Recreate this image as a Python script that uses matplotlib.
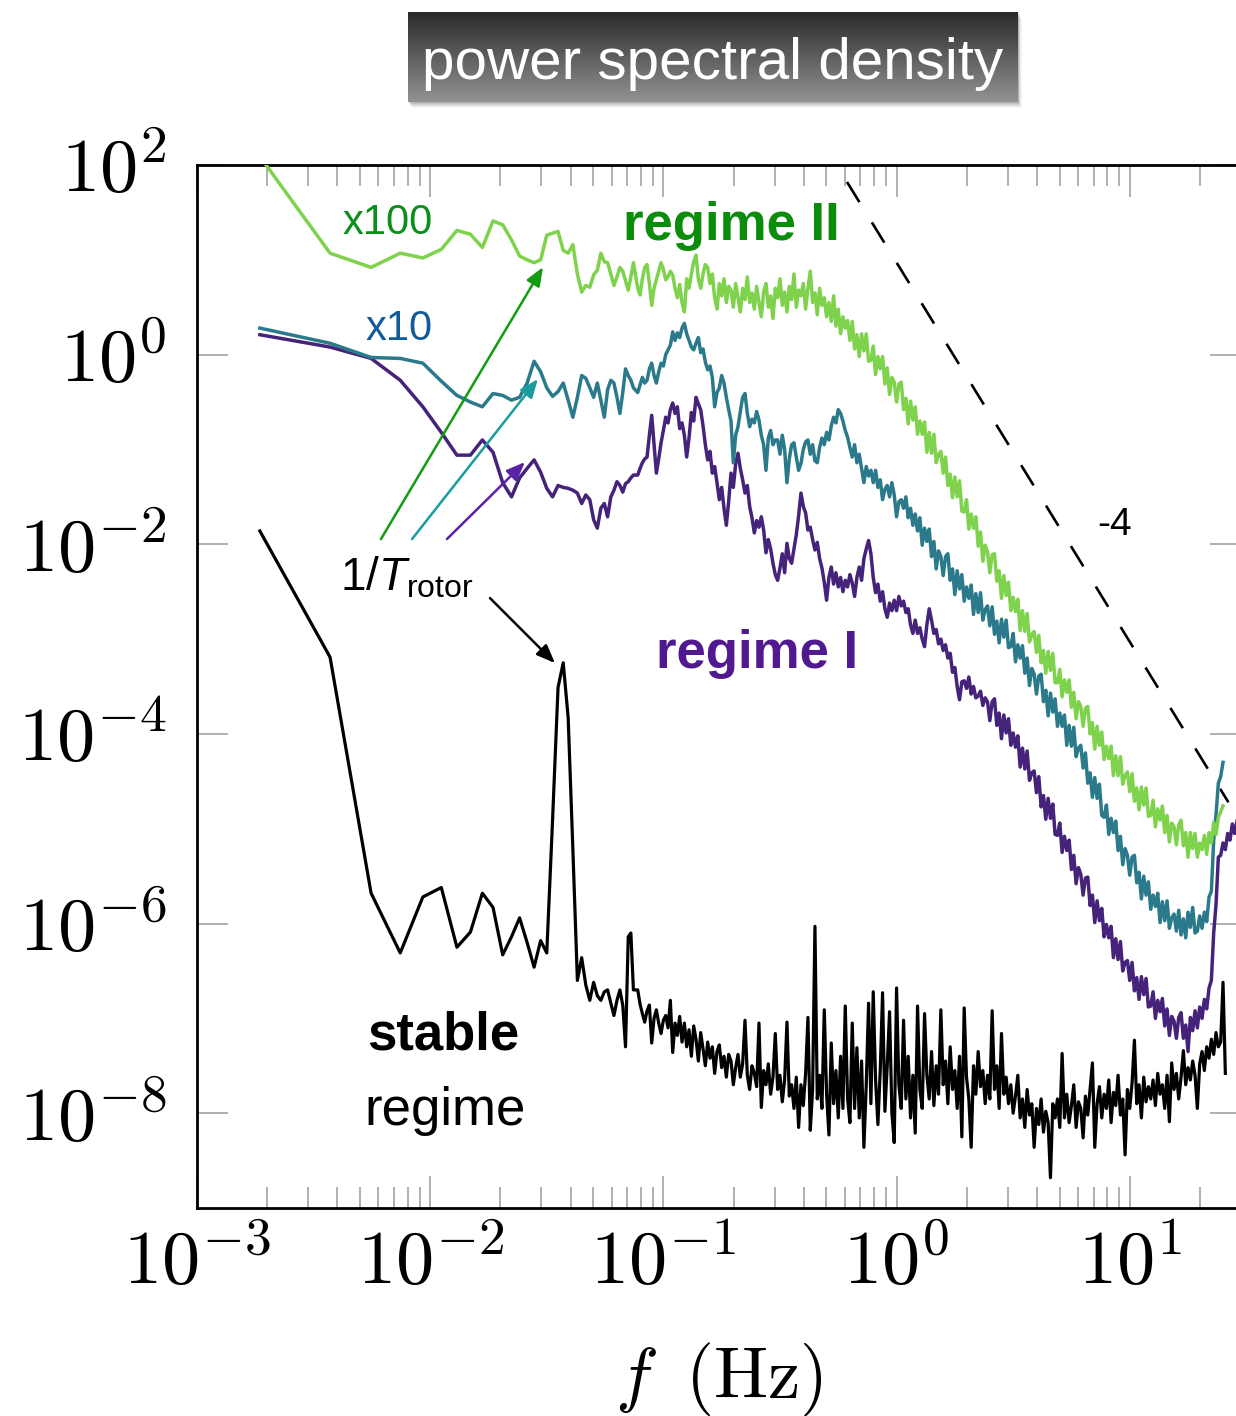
import numpy as np
import matplotlib
matplotlib.use('Agg')
import matplotlib.pyplot as plt
from matplotlib.patches import Rectangle
from matplotlib.colors import LinearSegmentedColormap
from matplotlib.ticker import LogLocator, NullLocator, NullFormatter

plt.rcParams['font.family'] = ['Liberation Sans', 'DejaVu Sans']
plt.rcParams['mathtext.fontset'] = 'cm'
plt.rcParams['mathtext.rm'] = 'Liberation Sans'
plt.rcParams['mathtext.it'] = 'Liberation Sans:italic'

# frequency bins: linear bins at low f, then log-spaced samples of the dense part
df = 0.00186
f_low = df * np.arange(1, 41)
f_high = np.logspace(-1.11, 1.48, 260)
freq = np.concatenate([f_low, f_high])

# log10 of the PSD, regime II (already multiplied by 100)
regime2_low = [2.09, 1.07, 0.92, 1.07, 1.02, 1.11, 1.31, 1.27, 1.13, 1.41,
               1.37, 1.21, 1.04, 1.00, 0.97, 1.00, 1.26, 1.28, 1.30, 1.10,
               1.07, 1.16, 0.85, 0.66, 0.73, 0.71, 0.84, 0.89, 1.07, 0.98,
               0.97, 0.85, 0.73, 0.82, 0.92, 0.88, 0.78, 0.68, 0.82, 0.97]
regime2_high = [
    0.70, 0.63, 0.80, 0.92, 0.95, 0.75, 0.52, 0.70, 0.79, 0.88,
    0.97, 0.90, 0.79, 0.82, 0.88, 0.84, 0.70, 0.60, 0.74, 0.55,
    0.45, 0.80, 0.70, 0.85, 0.98, 1.05, 0.80, 0.70, 0.85, 0.95,
    0.92, 0.75, 0.85, 0.60, 0.48, 0.75, 0.62, 0.80, 0.55, 0.72,
    0.68, 0.50, 0.75, 0.60, 0.45, 0.70, 0.58, 0.82, 0.55, 0.65,
    0.48, 0.72, 0.55, 0.40, 0.66, 0.75, 0.50, 0.62, 0.38, 0.70,
    0.60, 0.80, 0.52, 0.66, 0.45, 0.72, 0.58, 0.85, 0.50, 0.68,
    0.62, 0.75, 0.48, 0.70, 0.88, 0.55, 0.65, 0.42, 0.70, 0.52,
    0.60, 0.40, 0.55, 0.35, 0.62, 0.30, 0.48, 0.22, 0.40, 0.28,
    0.36, 0.15, 0.35, 0.06, 0.21, -0.02, 0.22, 0.04, 0.22, -0.07,
    -0.06, 0.09, -0.21, -0.02, -0.15, -0.02, -0.31, -0.14, -0.42, -0.24,
    -0.29, -0.50, -0.31, -0.29, -0.58, -0.46, -0.73, -0.49, -0.69, -0.55,
    -0.84, -0.70, -0.84, -0.71, -1.03, -0.82, -1.04, -0.84, -1.14, -1.05,
    -1.02, -1.25, -1.08, -1.38, -1.26, -1.51, -1.29, -1.50, -1.33, -1.65,
    -1.66, -1.53, -1.84, -1.68, -1.83, -1.71, -2.02, -1.87, -2.18, -2.01,
    -2.08, -2.30, -2.11, -2.10, -2.39, -2.28, -2.57, -2.33, -2.54, -2.40,
    -2.70, -2.56, -2.71, -2.58, -2.91, -2.70, -2.92, -2.73, -3.03, -2.95,
    -2.92, -3.14, -2.96, -3.25, -3.12, -3.36, -3.13, -3.33, -3.15, -3.46,
    -3.46, -3.32, -3.61, -3.43, -3.56, -3.43, -3.72, -3.56, -3.84, -3.66,
    -3.71, -3.92, -3.73, -3.71, -4.00, -3.88, -4.16, -3.92, -4.12, -3.98,
    -4.27, -4.13, -4.26, -4.13, -4.44, -4.23, -4.44, -4.24, -4.53, -4.44,
    -4.40, -4.61, -4.42, -4.71, -4.57, -4.80, -4.56, -4.75, -4.57, -4.87,
    -4.86, -4.70, -4.98, -4.79, -4.91, -4.76, -5.04, -4.86, -5.14, -4.94,
    -4.98, -5.17, -4.96, -4.91, -5.18, -5.04, -5.30, -5.04, -5.21, -5.05,
    -5.30, -5.15, -5.22, -5.07, -5.27, -5.04, -5.15, -4.93, -5.06, -4.88,
    -4.82, -4.76, np.nan, np.nan, np.nan, np.nan, np.nan, np.nan, np.nan, np.nan]

# log10 of the PSD, regime I (multiplied by 10)
regime1x10_low = [0.28, 0.12, -0.03, -0.04, -0.09, -0.28, -0.43, -0.50, -0.55, -0.41,
                  -0.43, -0.48, -0.45, -0.30, -0.07, -0.18, -0.35, -0.44, -0.39, -0.30,
                  -0.48, -0.66, -0.45, -0.22, -0.25, -0.35, -0.45, -0.30, -0.48, -0.66,
                  -0.37, -0.27, -0.30, -0.45, -0.62, -0.40, -0.15, -0.22, -0.27, -0.35]
regime1x10_high = [
    -0.40, -0.32, -0.24, -0.30, -0.27, -0.15, -0.09, -0.22, -0.30, -0.18,
    -0.09, -0.12, 0.00, 0.05, 0.10, 0.24, 0.15, 0.23, 0.18, 0.28,
    0.33, 0.22, 0.15, 0.08, 0.05, 0.12, 0.18, 0.02, 0.06, -0.08,
    -0.16, -0.12, -0.24, -0.55, -0.40, -0.35, -0.22, -0.30, -0.45, -0.58,
    -0.70, -1.14, -0.85, -0.76, -0.60, -0.45, -0.41, -0.62, -0.76, -0.68,
    -0.72, -0.60, -0.69, -0.85, -0.95, -1.22, -0.88, -0.80, -0.95, -0.90,
    -0.90, -1.05, -0.85, -1.00, -1.35, -1.10, -0.95, -0.93, -1.08, -1.22,
    -1.15, -1.00, -0.92, -0.90, -1.05, -0.95, -1.12, -1.14, -0.98, -0.88,
    -0.95, -0.82, -0.90, -0.75, -0.66, -0.72, -0.58, -0.62, -0.70, -0.80,
    -0.87, -0.98, -1.08, -0.95, -1.14, -1.05, -1.20, -1.35, -1.18, -1.28,
    -1.22, -1.35, -1.22, -1.40, -1.32, -1.53, -1.42, -1.38, -1.50, -1.35,
    -1.48, -1.71, -1.55, -1.53, -1.62, -1.50, -1.72, -1.62, -1.80, -1.68,
    -1.86, -1.72, -2.01, -1.83, -1.97, -1.84, -2.13, -1.97, -2.26, -2.07,
    -2.13, -2.33, -2.13, -2.10, -2.38, -2.26, -2.53, -2.28, -2.47, -2.32,
    -2.60, -2.45, -2.57, -2.43, -2.74, -2.52, -2.72, -2.51, -2.80, -2.69,
    -2.65, -2.86, -2.66, -2.95, -2.81, -3.04, -2.79, -2.98, -2.80, -3.09,
    -3.08, -2.94, -3.24, -3.06, -3.20, -3.07, -3.36, -3.20, -3.49, -3.31,
    -3.37, -3.58, -3.39, -3.37, -3.66, -3.54, -3.81, -3.57, -3.77, -3.63,
    -3.92, -3.78, -3.92, -3.80, -4.12, -3.91, -4.13, -3.93, -4.24, -4.15,
    -4.12, -4.36, -4.20, -4.52, -4.41, -4.67, -4.46, -4.68, -4.53, -4.86,
    -4.88, -4.75, -5.06, -4.89, -5.04, -4.92, -5.23, -5.08, -5.38, -5.21,
    -5.28, -5.49, -5.30, -5.28, -5.57, -5.46, -5.74, -5.50, -5.70, -5.56,
    -5.85, -5.70, -5.82, -5.68, -5.99, -5.77, -5.97, -5.76, -6.05, -5.94,
    -5.90, -6.08, -5.86, -6.12, -5.95, -6.15, -5.88, -6.04, -5.83, -6.10,
    -6.08, -5.92, -6.05, -5.88, -5.98, -5.72, -5.66, -5.12, -4.85, -4.52,
    -4.45, -4.30, np.nan, np.nan, np.nan, np.nan, np.nan, np.nan, np.nan, np.nan]

# log10 of the PSD, regime I
regime1_low = [0.21, 0.08, -0.04, -0.27, -0.55, -0.82, -1.06, -1.06, -0.90, -1.03,
               -1.35, -1.50, -1.30, -1.20, -1.11, -1.24, -1.41, -1.50, -1.38, -1.40,
               -1.41, -1.43, -1.46, -1.57, -1.48, -1.53, -1.74, -1.83, -1.62, -1.57,
               -1.71, -1.50, -1.43, -1.34, -1.38, -1.45, -1.36, -1.34, -1.30, -1.27]
regime1_high = [
    -1.27, -1.20, -1.14, -1.10, -1.08, -0.85, -0.64, -0.95, -1.25, -1.10,
    -0.93, -0.80, -0.66, -0.72, -0.58, -0.51, -0.62, -0.55, -0.78, -0.72,
    -0.85, -1.08, -0.88, -0.61, -0.70, -0.45, -0.52, -0.58, -0.75, -0.95,
    -1.11, -1.02, -1.25, -1.18, -1.35, -1.53, -1.40, -1.62, -1.80, -1.55,
    -1.25, -1.40, -1.15, -1.04, -1.20, -1.32, -1.46, -1.38, -1.60, -1.72,
    -1.88, -1.75, -1.82, -1.71, -1.85, -2.09, -1.95, -2.05, -2.20, -2.32,
    -2.38, -2.25, -2.10, -2.30, -1.99, -2.15, -2.20, -2.05, -1.90, -1.70,
    -1.46, -1.60, -1.67, -1.85, -1.82, -1.95, -2.06, -1.98, -2.15, -2.25,
    -2.40, -2.59, -2.35, -2.24, -2.42, -2.30, -2.45, -2.35, -2.50, -2.38,
    -2.45, -2.32, -2.41, -2.55, -2.35, -2.24, -2.38, -2.15, -2.05, -1.96,
    -2.10, -2.35, -2.51, -2.42, -2.60, -2.50, -2.68, -2.77, -2.62, -2.70,
    -2.59, -2.70, -2.55, -2.65, -2.60, -2.72, -2.68, -2.85, -2.94, -2.80,
    -2.94, -2.88, -3.00, -3.08, -2.85, -2.68, -2.80, -2.94, -2.90, -3.05,
    -3.00, -3.12, -3.06, -3.20, -3.15, -3.35, -3.30, -3.50, -3.64, -3.45,
    -3.44, -3.52, -3.40, -3.58, -3.50, -3.62, -3.60, -3.55, -3.70, -3.62,
    -3.66, -3.86, -3.66, -3.63, -3.91, -3.78, -4.05, -3.80, -3.99, -3.84,
    -4.12, -3.99, -4.14, -4.02, -4.35, -4.15, -4.37, -4.18, -4.49, -4.41,
    -4.39, -4.62, -4.45, -4.77, -4.65, -4.90, -4.68, -4.89, -4.74, -5.06,
    -5.07, -4.94, -5.25, -5.08, -5.23, -5.12, -5.43, -5.28, -5.58, -5.41,
    -5.48, -5.70, -5.52, -5.51, -5.81, -5.70, -5.99, -5.76, -5.97, -5.84,
    -6.14, -6.01, -6.15, -6.03, -6.36, -6.16, -6.38, -6.19, -6.50, -6.41,
    -6.39, -6.60, -6.41, -6.71, -6.57, -6.80, -6.56, -6.75, -6.58, -6.88,
    -6.87, -6.72, -7.00, -6.81, -6.93, -6.79, -7.08, -6.90, -7.18, -6.98,
    -7.03, -7.21, -6.99, -6.94, -7.21, -7.07, -7.35, -6.99, -7.13, -6.92,
    -7.10, -6.88, -7.00, -6.80, -6.90, -6.68, -6.60, -6.10, -5.80, -5.30,
    -5.28, -5.15, -5.22, -5.05, -5.12, -4.95, -5.05, -4.92, -5.15, -5.02]

# log10 of the PSD, stable regime
stable_low = [-1.86, -3.19, -5.68, -6.31, -5.72, -5.62, -6.25, -6.09, -5.68, -5.83,
              -6.33, -6.14, -5.94, -6.20, -6.46, -6.18, -6.31, -4.91, -3.51, -3.25,
              -3.83, -5.22, -6.60, -6.36, -6.65, -6.81, -6.62, -6.76, -6.81, -6.72,
              -6.70, -6.84, -6.97, -6.81, -6.70, -6.86, -7.30, -6.14, -6.10, -6.70]
stable_high = [
    -6.70, -6.85, -6.95, -7.04, -6.92, -6.86, -7.26, -7.00, -6.91, -7.05,
    -7.16, -7.02, -6.97, -7.10, -6.81, -7.36, -7.05, -7.18, -6.98, -7.25,
    -7.05, -7.30, -7.12, -7.40, -7.08, -7.22, -7.45, -7.15, -7.32, -7.50,
    -7.25, -7.42, -7.30, -7.58, -7.35, -7.28, -7.52, -7.40, -7.62, -7.38,
    -7.45, -7.70, -7.52, -7.38, -7.62, -7.48, -7.02, -7.60, -7.75, -7.50,
    -7.58, -7.72, -7.05, -7.94, -7.55, -7.70, -7.48, -7.80, -7.62, -7.16,
    -7.75, -7.60, -7.88, -7.65, -7.04, -7.82, -7.70, -7.95, -7.62, -8.15,
    -7.70, -7.92, -7.58, -6.99, -8.18, -7.75, -6.03, -7.85, -7.60, -7.95,
    -6.91, -7.80, -8.23, -7.26, -7.90, -7.55, -8.05, -7.40, -7.95, -6.87,
    -7.85, -8.10, -7.05, -7.95, -7.31, -8.05, -7.45, -8.36, -7.70, -6.84,
    -7.90, -6.72, -7.65, -8.12, -7.55, -6.73, -7.98, -7.50, -6.93, -8.00,
    -8.31, -6.68, -7.70, -7.95, -7.02, -7.85, -7.40, -8.05, -7.60, -8.21,
    -6.87, -7.75, -7.95, -6.95, -7.60, -7.85, -7.35, -7.92, -7.50, -7.80,
    -6.91, -7.70, -7.45, -7.90, -7.30, -7.75, -7.55, -7.95, -7.40, -8.25,
    -6.89, -7.62, -7.85, -8.36, -7.50, -7.80, -7.35, -7.72, -7.55, -7.90,
    -7.60, -7.85, -6.92, -7.75, -7.50, -7.95, -7.16, -7.80, -7.62, -7.90,
    -7.70, -8.00, -7.82, -7.60, -8.05, -7.85, -8.15, -7.75, -8.02, -7.90,
    -8.36, -7.95, -8.12, -7.85, -8.20, -7.98, -8.10, -8.68, -7.90, -8.05,
    -7.85, -8.15, -7.37, -8.05, -7.80, -8.10, -7.92, -7.70, -8.15, -7.88,
    -7.95, -8.26, -7.82, -8.02, -7.75, -7.47, -8.36, -7.90, -7.72, -8.05,
    -7.80, -7.95, -7.65, -8.10, -7.78, -7.92, -7.60, -8.02, -7.85, -8.44,
    -7.75, -7.95, -7.68, -7.23, -7.90, -7.70, -8.05, -7.62, -7.88, -7.72,
    -7.85, -7.65, -7.92, -7.58, -7.80, -7.70, -7.95, -7.60, -8.09, -7.47,
    -7.75, -7.58, -7.85, -7.62, -7.34, -7.70, -7.52, -7.65, -7.45, -7.60,
    -7.95, -7.48, -7.35, -7.55, -7.30, -7.42, -7.22, -7.38, -7.15, -7.30,
    -7.25, -6.62, -7.58, np.nan, np.nan, np.nan, np.nan, np.nan, np.nan, np.nan]

# -4 power law guide
slope_f = np.array([0.613, 26.5])
slope_p = 66.3 * (slope_f / 0.613) ** -4

regime2 = 10 ** np.concatenate([regime2_low, regime2_high])
regime1x10 = 10 ** np.concatenate([regime1x10_low, regime1x10_high])
regime1 = 10 ** np.concatenate([regime1_low, regime1_high])
stable = 10 ** np.concatenate([stable_low, stable_high])

W, H = 1236, 1416
fig = plt.figure(figsize=(W / 100, H / 100), dpi=100)
ax = fig.add_axes([197 / W, (H - 1208) / H, 1044 / W, 1043 / H])

ax.plot(slope_f, slope_p, color='black', lw=1.9, dashes=(9, 9), zorder=1)
ax.plot(freq, stable, color='black', lw=2.3, zorder=2)
ax.plot(freq, regime1, color='#46237a', lw=2.5, zorder=3)
ax.plot(freq, regime1x10, color='#2a7a8c', lw=2.5, zorder=4)
ax.plot(freq, regime2, color='#7ed24c', lw=2.5, zorder=5)

ax.set_xscale('log')
ax.set_yscale('log')
ax.set_xlim(1e-3, 30)
ax.set_ylim(1e-9, 1e2)

xt = [1e-3, 1e-2, 1e-1, 1e0, 1e1]
ax.set_xticks(xt, labels=[r'$10^{-3}$', r'$10^{-2}$', r'$10^{-1}$', r'$10^{0}$', r'$10^{1}$'])
ax.xaxis.set_minor_locator(LogLocator(base=10, subs=np.arange(2, 10), numticks=30))
ax.xaxis.set_minor_formatter(NullFormatter())
yt = [1e-8, 1e-6, 1e-4, 1e-2, 1e0, 1e2]
ax.set_yticks(yt, labels=[r'$10^{-8}$', r'$10^{-6}$', r'$10^{-4}$', r'$10^{-2}$', r'$10^{0}$', r'$10^{2}$'])
ax.yaxis.set_minor_locator(NullLocator())

ax.tick_params(which='both', direction='in', top=True, right=True, color='#9a9a9a', width=1.1)
ax.tick_params(axis='x', which='major', length=23, labelsize=55, pad=15)
ax.tick_params(axis='x', which='minor', length=15)
ax.tick_params(axis='y', which='major', length=22, labelsize=55, pad=22)
for s in ax.spines.values():
    s.set_linewidth(2.0)

ax.set_xlabel(r'$f\;\;(\mathrm{Hz})$', fontsize=52)
ax.xaxis.set_label_coords(0.5, -0.127)

# labels on the curves
ax.text(0.183, 0.934, 'x100', color='#0b8f1a', fontsize=30, ha='center', va='baseline', transform=ax.transAxes)
ax.text(0.194, 0.832, 'x10', color='#125b9a', fontsize=30, ha='center', va='baseline', transform=ax.transAxes)
ax.text(0.5115, 0.928, 'regime II', color='#0b8c0b', fontsize=38, fontweight='bold',
        ha='center', va='baseline', transform=ax.transAxes)
ax.text(0.5364, 0.5177, 'regime I', color='#50198f', fontsize=38, fontweight='bold',
        ha='center', va='baseline', transform=ax.transAxes)
ax.text(0.2356, 0.1515, 'stable', color='black', fontsize=38, fontweight='bold',
        ha='center', va='baseline', transform=ax.transAxes)
ax.text(0.2375, 0.0796, 'regime', color='black', fontsize=38,
        ha='center', va='baseline', transform=ax.transAxes)
ax.text(0.8793, 0.6453, '-4', color='black', fontsize=28, ha='center', va='baseline', transform=ax.transAxes)
ax.text(0.137, 0.5925, r'$1/T_{\mathrm{rotor}}$', color='black', fontsize=33, math_fontfamily='custom',
        ha='left', va='baseline', transform=ax.transAxes)

# arrows pointing at the rotor frequency in each spectrum
arrows = [((0.00615, 0.01135), (0.03046, 8.39), '#129c12'),
          ((0.00836, 0.01135), (0.02899, 0.553), '#1b9da0'),
          ((0.0118, 0.01135), (0.0255, 0.0736), '#5a22a6'),
          ((0.01805, 0.002707), (0.03429, 5.58e-4), 'black')]
for tail, tip, c in arrows:
    ax.annotate('', xy=tip, xytext=tail,
                arrowprops=dict(arrowstyle='-|>,head_length=0.75,head_width=0.3', color=c, lw=1.8,
                                shrinkA=0, shrinkB=0, mutation_scale=15), zorder=6)

# title banner with a soft drop shadow
for k, a in zip(range(6, 0, -1), [0.03, 0.04, 0.05, 0.06, 0.07, 0.08]):
    fig.patches.append(Rectangle(((408 + k * 0.6) / W, (H - 102 - k) / H), 610 / W, 90 / H,
                                 transform=fig.transFigure, facecolor='black', alpha=a,
                                 edgecolor='none', zorder=-1))
tax = fig.add_axes([408 / W, (H - 102) / H, 610 / W, 90 / H])
grad = np.linspace(0, 1, 256).reshape(-1, 1)
tax.imshow(grad, aspect='auto', extent=[0, 1, 0, 1],
           cmap=LinearSegmentedColormap.from_list('banner', ['#2a2a2a', '#939393']))
tax.set_axis_off()
tax.text(0.5, 0.26, 'power spectral density', color='white', fontsize=42,
         ha='center', va='baseline', transform=tax.transAxes)

fig.savefig('out.png', dpi=100)
